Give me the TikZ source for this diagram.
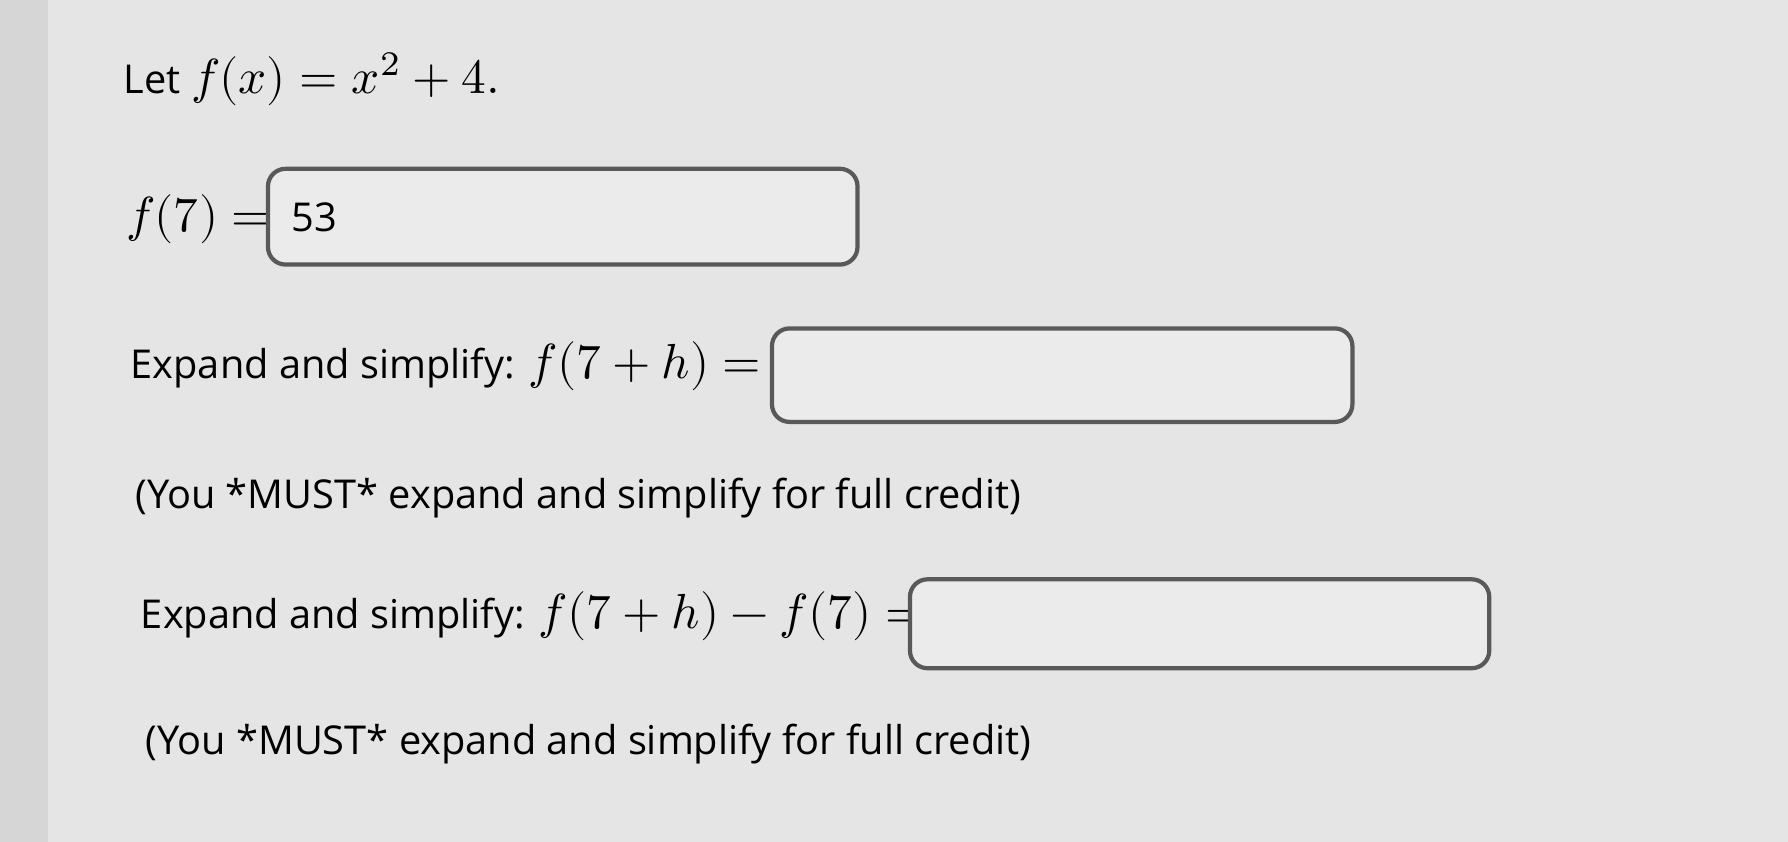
\documentclass[tikz,border=0pt]{standalone}
\usepackage{fontspec}
\setmainfont{Open Sans}
\usepackage{unicode-math}
\setmathfont{Latin Modern Math}[Scale=1.24]
\begin{document}
\begin{tikzpicture}[x=0.0114cm,y=-0.0114cm,
  txt/.style={anchor=base west,inner sep=0,font=\fontsize{11.3}{14}\selectfont},
  ansbox/.style={draw=black!65,line width=1.2pt,rounded corners=5pt,fill=white!92!black}]
\fill[black!10] (0,0) rectangle (1568,738);
\fill[black!16] (0,0) rectangle (42,738);
\node[txt] (l1) at (108,82) {Let $f(x)=x^2+4.$};
\node[txt] (l2) at (110,203) {$f(7)=$};
\draw[ansbox] (235,148) rectangle (752,232);
\node[txt] (v) at (255,203) {53};
\node[txt] (l3) at (114,332) {Expand and simplify: $f(7+h)=$};
\draw[ansbox] (677,288) rectangle (1186,370);
\node[txt] (l4) at (118,446) {(You *MUST* expand and simplify for full credit)};
\node[txt] (l5) at (123,551) {Expand and simplify: $f(7+h)-f(7)=$};
\draw[ansbox] (798,508) rectangle (1306,586);
\node[txt] (l6) at (127,662) {(You *MUST* expand and simplify for full credit)};
\end{tikzpicture}
\end{document}
